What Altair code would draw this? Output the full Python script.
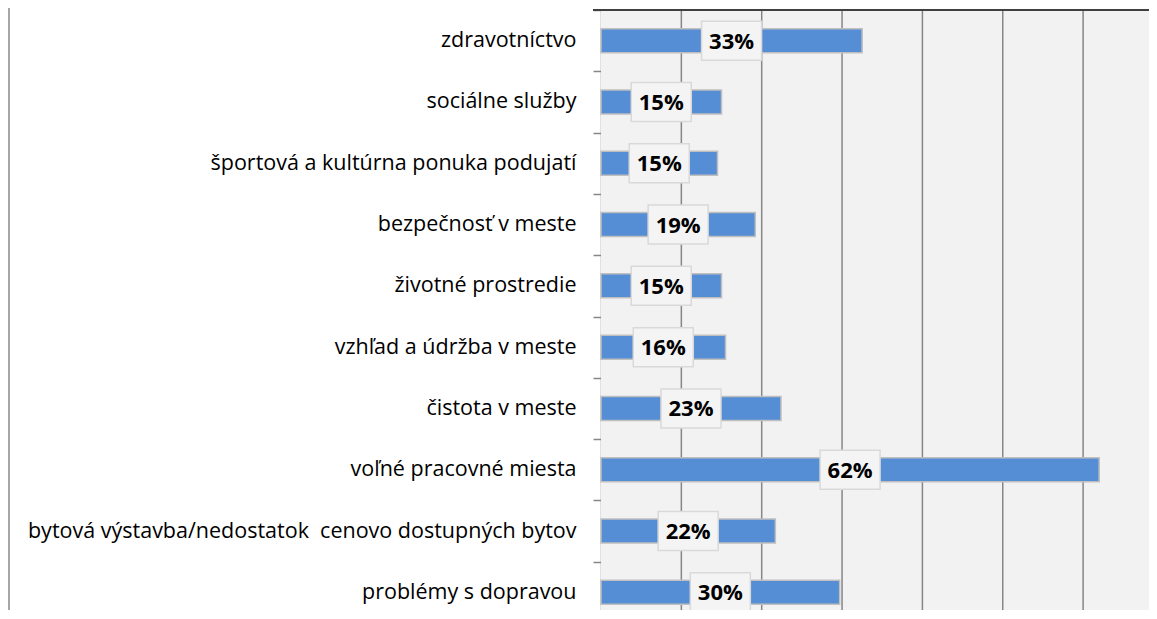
import altair as alt
import pandas as pd

categories = [
    "zdravotníctvo",
    "sociálne služby",
    "športová a kultúrna ponuka podujatí",
    "bezpečnosť v meste\u00a0",
    "životné prostredie",
    "vzhľad a údržba v meste",
    "čistota v meste\u00a0",
    "voľné pracovné miesta",
    "bytová výstavba/nedostatok\u00a0 cenovo dostupných bytov",
    "problémy s dopravou",
]
values = [0.325, 0.15, 0.145, 0.192, 0.15, 0.155, 0.224, 0.62, 0.217, 0.297]
labels = ["33%", "15%", "15%", "19%", "15%", "16%", "23%", "62%", "22%", "30%"]
grid_values = [0.1, 0.2, 0.3, 0.4, 0.5, 0.6]

df = pd.DataFrame({"cat": categories, "val": values, "lab": labels})
gdf = pd.DataFrame({"g": grid_values})

W = 548
H = 600
BAND_RANGE = 613
LEFT = 593
FONT = "Open Sans"

x_scale = alt.Scale(domain=[0, 0.682], nice=False, zero=True)
y_scale = alt.Scale(domain=categories, paddingInner=0, paddingOuter=0, range=[0, BAND_RANGE])

base = alt.Chart(df)

bg = alt.Chart(df).mark_rect(color="#f2f2f2").encode(
    x=alt.value(0), x2=alt.value(W), y=alt.value(0), y2=alt.value(BAND_RANGE)
)

grid = alt.Chart(gdf).mark_rule(color="#868686", strokeWidth=1.5).encode(
    x=alt.X("g:Q", scale=x_scale, axis=None),
    y=alt.value(0),
    y2=alt.value(BAND_RANGE),
)

bars = base.mark_bar(
    color="#558ed5", stroke="#bfbfbf", strokeWidth=1.5, size=24
).encode(
    x=alt.X("val:Q", scale=x_scale, axis=None),
    y=alt.Y(
        "cat:N",
        sort=categories,
        scale=y_scale,
        axis=alt.Axis(
            title=None,
            tickBand="extent",
            tickSize=8,
            tickColor="#868686",
            tickWidth=1.5,
            domainColor="#868686",
            domainWidth=1.5,
            labelFont=FONT,
            labelFontSize=21.5,
            labelColor="#000000",
            labelPadding=17,
            labelLimit=700,
            grid=False,
        ),
    ),
)

boxes = base.transform_calculate(mid="datum.val / 2").mark_point(
    shape="M-1,-0.65L1,-0.65L1,0.65L-1,0.65Z",
    size=3600,
    filled=True,
    fill="#f4f4f4",
    stroke="#d9d9d9",
    strokeWidth=1.5,
    opacity=1,
).encode(
    x=alt.X("mid:Q", scale=x_scale),
    y=alt.Y("cat:N", sort=categories, scale=y_scale),
)

texts = base.transform_calculate(mid="datum.val / 2").mark_text(
    font=FONT, fontSize=22, fontWeight="bold", color="#000000", baseline="middle", dy=1
).encode(
    x=alt.X("mid:Q", scale=x_scale),
    y=alt.Y("cat:N", sort=categories, scale=y_scale),
    text="lab:N",
)

top_line = alt.Chart(df).mark_rule(color="#404040", strokeWidth=2).encode(
    x=alt.value(-8), x2=alt.value(W), y=alt.value(0)
)
left_frame = alt.Chart(df).mark_rule(color="#a6a6a6", strokeWidth=2).encode(
    x=alt.value(-LEFT + 1), y=alt.value(-2), y2=alt.value(BAND_RANGE)
)

chart = (
    alt.layer(bg, grid, bars, boxes, texts, top_line, left_frame)
    .properties(
        width=W,
        height=H,
        autosize=alt.AutoSizeParams(type="none"),
        padding={"left": LEFT, "top": 2, "right": 0, "bottom": 0},
    )
    .configure_view(stroke=None)
    .configure(background="#ffffff")
)

chart.save("out.html", embed_options={"renderer": "svg", "actions": False})
